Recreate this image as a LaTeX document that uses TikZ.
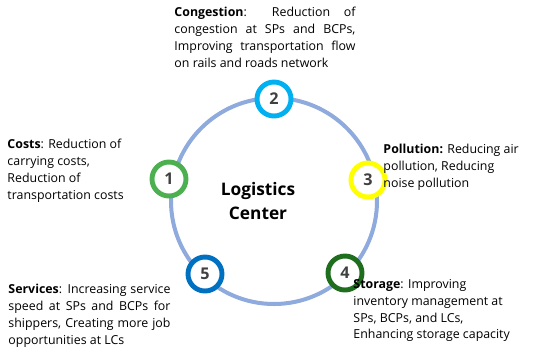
\documentclass[tikz,border=0pt]{standalone}
\usepackage{fontspec}
\setmainfont{Open Sans}
\usetikzlibrary{positioning}

\definecolor{ringblue}{RGB}{143,170,220}
\definecolor{cgreen}{RGB}{76,175,80}
\definecolor{ccyan}{RGB}{0,176,240}
\definecolor{cyellow}{RGB}{255,255,0}
\definecolor{cdkgreen}{RGB}{30,110,30}
\definecolor{cblue}{RGB}{0,112,192}
\definecolor{numgray}{RGB}{64,64,64}

\begin{document}
\begin{tikzpicture}[line width=0.7pt,
  ring/.style={circle, draw, line width=3.5pt, fill=white, minimum size=0.85cm,
    inner sep=0pt, text=numgray, font=\fontsize{11.5}{12}\selectfont\bfseries},
  info/.style={anchor=north west, inner sep=0pt,
    font=\fontsize{8.8}{11.9}\selectfont}]
  \useasboundingbox (-6.85,-3.825) rectangle (6.9,5.025);
  % anillo central
  \draw[ringblue, line width=2.85pt] (0,0) circle (2.575);
  \node[font=\fontsize{12.3}{16.6}\selectfont\bfseries, align=center] (lc) at (-0.4,0)
    {Logistics\\Center};
  % circulos numerados
  \node[ring, draw=cgreen] (n1) at (-2.625,0.55) {1};
  \node[ring, draw=ccyan] (n2) at (0,2.55) {2};
  \node[ring, draw=cyellow] (n3) at (2.35,0.525) {3};
  \node[ring, draw=cdkgreen] (n4) at (1.775,-1.8) {4};
  \node[ring, draw=cblue] (n5) at (-1.725,-1.825) {5};
  % textos
  \node[info, text width=4.525cm, align=justify] (t2) at (-2.5,4.85)
    {\textbf{Congestion}: Reduction of\linebreak congestion at SPs and BCPs,\linebreak
     Improving transportation flow\linebreak on rails and roads network};
  \node[info, align=left] (t1) at (-6.675,1.55)
    {\textbf{Costs}: Reduction of\\carrying costs,\\Reduction of\\transportation costs};
  \node[info, align=left] (t3) at (2.725,1.425)
    {\textbf{Pollution:} Reducing air\\pollution, Reducing\\noise pollution};
  \node[info, text width=4.05cm, align=justify] (t5) at (-6.65,-2.075)
    {\textbf{Services}: Increasing service\linebreak speed at SPs and BCPs for\linebreak
     shippers, Creating more job\linebreak opportunities at LCs};
  \node[info, align=left] (t4) at (1.975,-1.95)
    {\textbf{Storage}: Improving\\inventory management at\\SPs, BCPs, and LCs,\\
     Enhancing storage capacity};
\end{tikzpicture}
\end{document}
